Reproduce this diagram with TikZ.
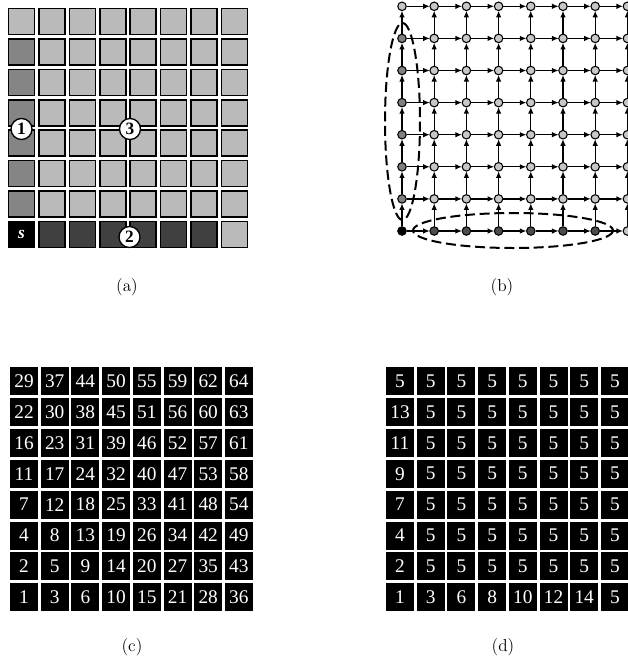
\documentclass[tikz,border=0pt]{standalone}
\usepackage{fontspec}
\newfontfamily\tnr{Liberation Serif}
\usetikzlibrary{arrows.meta}
\begin{document}
\begin{tikzpicture}[x=0.75pt,y=-0.75pt,
  acell/.style={draw=black,line width=1.2pt,minimum size=26*0.75pt,inner sep=0pt},
  numc/.style={circle,draw=black,fill=white,line width=1pt,minimum size=21*0.75pt,inner sep=0pt,font=\tnr\bfseries\fontsize{13}{13}\selectfont},
  bnode/.style={circle,draw=black,line width=0.8pt,minimum size=8.5*0.75pt,inner sep=0pt},
  barrow/.style={line width=1pt,-{Latex[length=5pt,width=4.2pt]},shorten >=-0.3pt},
  ell/.style={line width=1.5pt,dash pattern=on 7.5pt off 3.5pt},
  ncell/.style={fill=black,minimum size=28*0.75pt,inner sep=0pt,text=white,font=\tnr\fontsize{14.5}{14.5}\selectfont},
  lab/.style={font=\fontsize{13}{15}\selectfont}]
\useasboundingbox (0,0) rectangle (628,661);

% ---------- (a)
\foreach \i in {0,...,7}{\foreach \j in {0,...,7}{
  \def\fc{black!27}
  \ifnum\i=0 \ifnum\j>0 \def\fc{black!48}\fi\fi
  \ifnum\j=7 \ifnum\i<7 \def\fc{black!75}\fi\fi
  \ifnum\i=0 \ifnum\j=7 \def\fc{black}\fi\fi
  \node[acell,fill=\fc] (a-\i-\j) at ({21.5+30.4*\i},{21.5+30.4*\j}) {};
}}
\node[text=white,font=\tnr\bfseries\itshape\fontsize{13}{13}\selectfont] (s) at (a-0-7) {s};
\node[numc] (c1) at (21.5,129) {1};
\node[numc] (c3) at (130,129) {3};
\node[numc] (c2) at (129.5,237) {2};
\node[lab] (la) at (127,287) {(a)};

% ---------- (b)
\foreach \i in {0,...,7}{\foreach \j in {0,...,7}{
  \def\fc{black!22}
  \ifnum\i=0 \ifnum\j>0 \ifnum\j<7 \def\fc{black!50}\fi\fi\fi
  \ifnum\j=0 \ifnum\i<7 \def\fc{black!70}\fi\fi
  \ifnum\i=0 \ifnum\j=0 \def\fc{black}\fi\fi
  \node[bnode,fill=\fc] (b-\i-\j) at ({402+32.2*\i},{231-32.1*\j}) {};
}}
\foreach \i in {0,...,6}{\foreach \j in {0,...,7}{
  \pgfmathtruncatemacro\ii{\i+1}
  \draw[barrow] (b-\i-\j) -- (b-\ii-\j);
}}
\foreach \i in {0,...,7}{\foreach \j in {0,...,6}{
  \pgfmathtruncatemacro\jj{\j+1}
  \draw[barrow] (b-\i-\j) -- (b-\i-\jj);
}}
\draw[ell] (402.5,121.5) ellipse [x radius=17.5,y radius=98.5];
\draw[ell] (513,230.5) ellipse [x radius=100,y radius=17.5];
\node[lab] (lb) at (502,287) {(b)};

% ---------- (c)
\foreach \row [count=\j from 0] in {{29,37,44,50,55,59,62,64},{22,30,38,45,51,56,60,63},{16,23,31,39,46,52,57,61},{11,17,24,32,40,47,53,58},{7,12,18,25,33,41,48,54},{4,8,13,19,26,34,42,49},{2,5,9,14,20,27,35,43},{1,3,6,10,15,21,28,36}}{
  \foreach \v [count=\i from 0] in \row {
    \node[ncell] (c-\i-\j) at ({24+30.7*\i},{381+30.9*\j}) {\v};
  }}
\node[lab] (lc) at (132,647) {(c)};

% ---------- (d)
\foreach \row [count=\j from 0] in {{5,5,5,5,5,5,5,5},{13,5,5,5,5,5,5,5},{11,5,5,5,5,5,5,5},{9,5,5,5,5,5,5,5},{7,5,5,5,5,5,5,5},{4,5,5,5,5,5,5,5},{2,5,5,5,5,5,5,5},{1,3,6,8,10,12,14,5}}{
  \foreach \v [count=\i from 0] in \row {
    \node[ncell] (d-\i-\j) at ({400+30.7*\i},{381+30.9*\j}) {\v};
  }}
\node[lab] (ld) at (503,647) {(d)};
\end{tikzpicture}
\end{document}
